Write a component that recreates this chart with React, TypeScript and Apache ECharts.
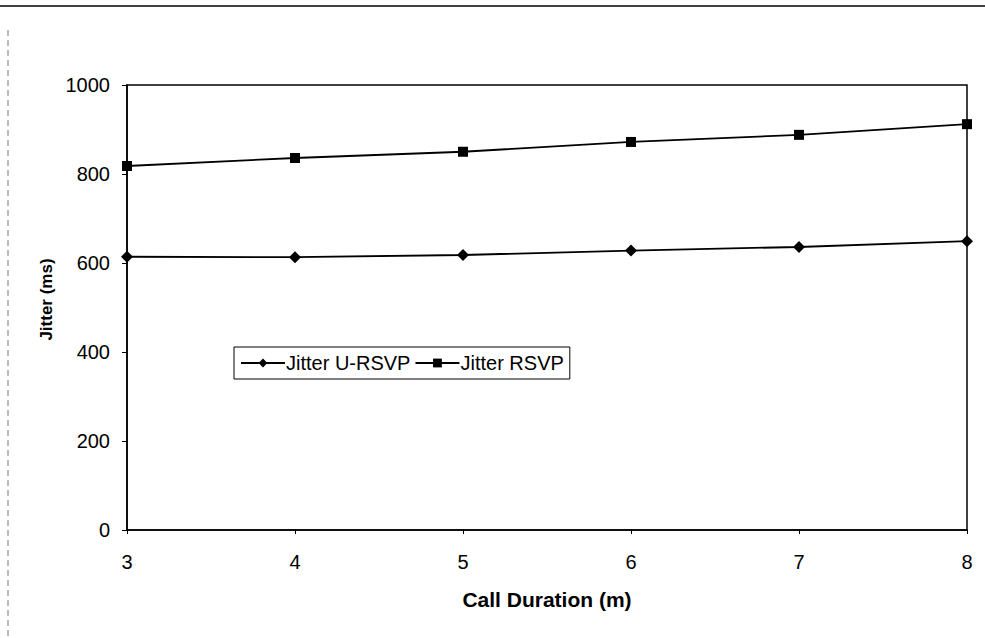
import React, { useEffect, useRef } from "react";
import * as echarts from "echarts";

const durations = ["3", "4", "5", "6", "7", "8"];
const jitterURSVP = [614, 613, 618, 628, 636, 649];
const jitterRSVP = [818, 836, 850, 872, 888, 912];
const yTicks = { min: 0, max: 1000, interval: 200 };

export default function App() {
  const ref = useRef<HTMLDivElement>(null);
  useEffect(() => {
    if (!ref.current) return;
    const chart = echarts.init(ref.current, undefined, { renderer: "svg" });
    const font = "'Liberation Sans', Arial, sans-serif";
    chart.setOption({
      animation: false,
      backgroundColor: "#ffffff",
      textStyle: { fontFamily: font, color: "#000" },
      grid: {
        left: 127,
        right: 18,
        top: 85,
        bottom: 108,
        show: true,
        borderColor: "#000",
        borderWidth: 1.5,
        backgroundColor: "transparent",
      },
      legend: {
        left: 234,
        top: 347,
        orient: "horizontal",
        itemWidth: 44,
        itemHeight: 11,
        itemGap: 4,
        borderColor: "#000",
        borderWidth: 1,
        padding: [6, 6, 6, 6],
        textStyle: { fontFamily: font, fontSize: 20, color: "#000", padding: [0, 0, 0, -4] },
        data: ["Jitter U-RSVP", "Jitter RSVP"],
      },
      xAxis: {
        type: "category",
        data: durations,
        boundaryGap: false,
        name: "Call Duration (m)",
        nameLocation: "middle",
        nameGap: 59,
        nameTextStyle: { fontFamily: font, fontSize: 21, fontWeight: "bold", color: "#000" },
        axisLine: { lineStyle: { color: "#000", width: 1.5 } },
        axisTick: { show: true, length: 4, inside: false, lineStyle: { color: "#000" } },
        axisLabel: { fontFamily: font, fontSize: 20, color: "#000", margin: 22 },
        splitLine: { show: false },
      },
      yAxis: {
        type: "value",
        min: yTicks.min,
        max: yTicks.max,
        interval: yTicks.interval,
        name: "Jitter (ms)",
        nameLocation: "middle",
        nameGap: 72,
        nameRotate: 90,
        nameTextStyle: {
          fontFamily: font,
          fontSize: 17,
          fontWeight: "bold",
          color: "#000",
          padding: [0, 0, 0, 16],
        },
        axisLine: { show: true, lineStyle: { color: "#000", width: 1.5 } },
        axisTick: { show: true, length: 5, lineStyle: { color: "#000" } },
        axisLabel: {
          fontFamily: font,
          fontSize: 20,
          color: "#000",
          margin: 17,
          formatter: (v: number) => String(v),
        },
        splitLine: { show: false },
      },
      series: [
        {
          name: "Jitter U-RSVP",
          type: "line",
          data: jitterURSVP,
          symbol: "diamond",
          symbolSize: 12,
          lineStyle: { color: "#000", width: 1.8 },
          itemStyle: { color: "#000" },
        },
        {
          name: "Jitter RSVP",
          type: "line",
          data: jitterRSVP,
          symbol: "rect",
          symbolSize: 10,
          lineStyle: { color: "#000", width: 1.8 },
          itemStyle: { color: "#000" },
        },
      ],
      graphic: [
        { type: "line", shape: { x1: 0, y1: 6, x2: 985, y2: 6 }, style: { stroke: "#000", lineWidth: 1.5 } },
        {
          type: "line",
          shape: { x1: 8, y1: 30, x2: 8, y2: 638 },
          style: { stroke: "#777", lineWidth: 1, lineDash: [6, 4] },
        },
      ],
    });
    return () => chart.dispose();
  }, []);
  return (
    <div
      ref={ref}
      style={{ position: "absolute", left: 0, top: 0, width: 985, height: 638 }}
    />
  );
}
